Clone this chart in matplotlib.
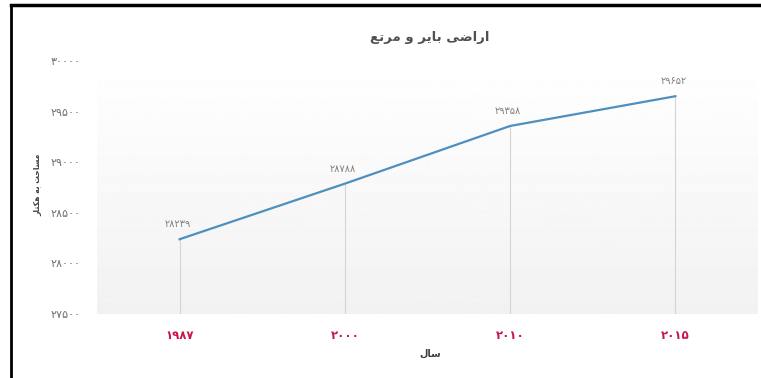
import numpy as np
import matplotlib
matplotlib.use("Agg")
import matplotlib.pyplot as plt

plt.rcParams['font.family'] = ['DejaVu Sans', 'Noto Sans']

# data
years = ["۱۹۸۷", "۲۰۰۰", "۲۰۱۰", "۲۰۱۵"]
area = [28239, 28788, 29358, 29652]
yticks = [27500, 28000, 28500, 29000, 29500, 30000]

# Persian text written in visual order with presentation forms (no shaping in matplotlib)
title = "ﻊﺗﺮﻣ ﻭ ﺮﯾﺎﺑ ﯽﺿﺍﺭﺍ"
ylabel = "ﺭﺎﺘﮑﻫ ﻪﺑ ﺖﺣﺎﺴﻣ"
xlabel = "ﻝﺎﺳ"

fa_digits = str.maketrans("0123456789", "۰۱۲۳۴۵۶۷۸۹")

def fa(n):
    return str(n).translate(fa_digits)

fig = plt.figure(figsize=(7.61, 3.78), dpi=100)
ax = fig.add_axes([97/761, 1 - 314/378, (758 - 97)/761, (314 - 61)/378])

x = np.arange(len(years))
ax.set_xlim(-0.5, len(years) - 0.5)
ax.set_ylim(27500, 30000)

# background gradient
grad = np.linspace(0.925, 1.0, 256).reshape(-1, 1) ** 0.7
ax.imshow(grad, cmap='gray', vmin=0, vmax=1, aspect='auto',
          extent=(-0.5, len(years) - 0.5, 27500, 30000), origin='lower', zorder=0)

ax.vlines(x, 27500, area, color='#d4d4d4', lw=0.8, zorder=1)
ax.plot(x, area, color='#4f8fbf', lw=1.6, zorder=3)

for xi, v in zip(x, area):
    ax.annotate(fa(v), (xi, v), xytext=(-1.5, 7), textcoords='offset points',
                ha='center', va='bottom', fontsize=7, color='#808080')

ax.set_xticks(x)
ax.set_xticklabels(years, color='#c8174a', fontsize=8.5, fontweight='bold')
ax.set_yticks(yticks)
ax.set_yticklabels([fa(t) for t in yticks], color='#707070', fontsize=8)
ax.tick_params(axis='x', length=0, pad=11)
ax.tick_params(axis='y', length=0, pad=12)
for s in ax.spines.values():
    s.set_visible(False)

fig.text(430/761, 1 - 38/378, title, ha='center', va='center',
         fontsize=9.5, fontweight='bold', color='#505050')
fig.text(430/761, 1 - 354/378, xlabel, ha='center', va='center',
         fontsize=7, fontweight='bold', color='#404040')
fig.text(38/761, 1 - 185/378, ylabel, ha='center', va='center', rotation=90,
         fontsize=5.5, fontweight='bold', color='#404040')

# black frame lines at left and top
fig.add_artist(plt.Line2D([11/761, 11/761], [0, 1 - 5/378], color='black', lw=2,
                          transform=fig.transFigure))
fig.add_artist(plt.Line2D([11/761, 1], [1 - 5/378, 1 - 5/378], color='black', lw=2.5,
                          transform=fig.transFigure))

fig.savefig("out.png", dpi=100)
